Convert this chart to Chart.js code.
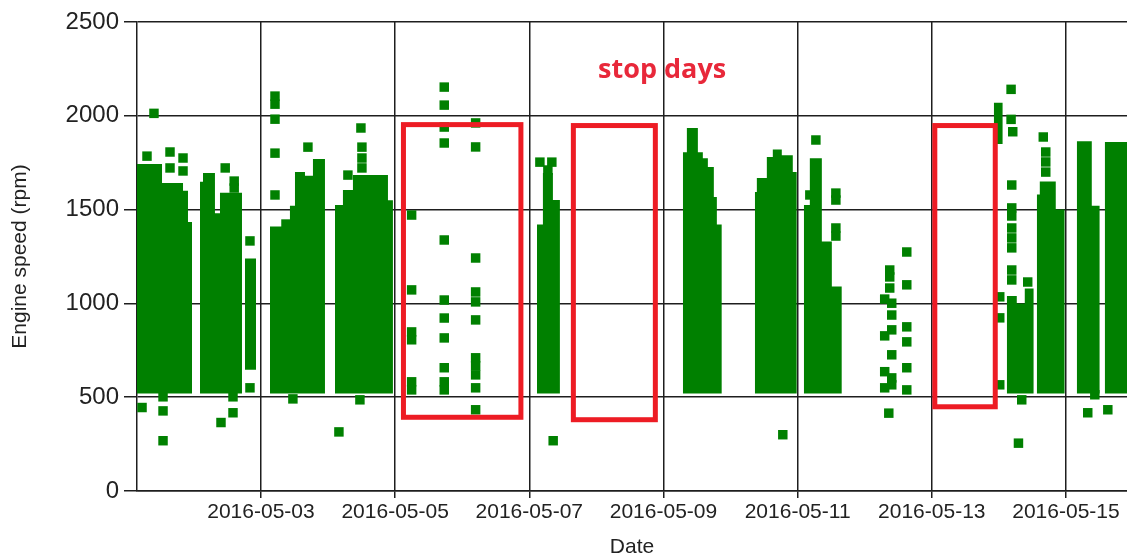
<!DOCTYPE html>
<html>
<head>
<meta charset="utf-8">
<script src="https://cdn.jsdelivr.net/npm/chart.js@4"></script>
<style>
    html, body { margin: 0; padding: 0; background: #fff; overflow: hidden; }
    #chart { display: block; }
</style>
</head>
<body>
<canvas id="chart" width="1127" height="558"></canvas>
<script>
// ============================================
// Engine speed per day - scatter with stop-day boxes
// ============================================

// x values are days of May 2016 (1.5 = 2016-05-01 12:00)
const tickDays = [3, 5, 7, 9, 11, 13, 15];
const tickLabels = ['2016-05-03', '2016-05-05', '2016-05-07', '2016-05-09', '2016-05-11', '2016-05-13', '2016-05-15'];
const yTicks = [0, 500, 1000, 1500, 2000, 2500];

// dense running periods: each row starts a step, null top = gap
const bandStart = [
    1.15, 1.525, 1.838, 1.912, 1.972, 1.972,
    2.091, 2.136, 2.314, 2.389, 2.717, 2.717,
    2.762, 2.926, 2.926,
    3.134, 3.432, 3.507, 3.656, 3.775, 3.954, 3.954,
    4.103, 4.222, 4.371, 4.893, 4.967, 4.967,
    7.113, 7.203, 7.352, 7.456, 7.456,
    9.289, 9.349, 9.513, 9.587, 9.662, 9.751, 9.796, 9.870, 9.870,
    10.362, 10.392, 10.541, 10.630, 10.764, 10.928, 10.988, 10.988,
    11.092, 11.182, 11.361, 11.510, 11.659, 11.659,
    13.924, 14.058, 14.058,
    14.118, 14.267, 14.386, 14.520, 14.520,
    14.565, 14.610, 14.848, 14.982, 14.982,
    15.161, 15.385, 15.504, 15.504,
    15.578, 15.91
];
const bandTop = [
    1743, 1642, 1600, 1434, 1434, null,
    1648, 1695, 1480, 1590, 1590, null,
    1240, 1240, null,
    1410, 1520, 1700, 1680, 1770, 1770, null,
    1525, 1604, 1684, 1550, 1550, null,
    1420, 1695, 1551, 1551, null,
    1806, 1935, 1806, 1774, 1727, 1567, 1420, 1420, null,
    1594, 1668, 1780, 1820, 1790, 1700, 1700, null,
    1525, 1774, 1330, 1090, 1090, null,
    2070, 2070, null,
    1040, 1000, 1080, 1080, null,
    1580, 1650, 1500, 1500, null,
    1865, 1520, 1520, null,
    1860, 1860
];
const bandBottom = [
    520, 520, 520, 520, 520, null,
    520, 520, 520, 520, 520, null,
    646, 646, null,
    520, 520, 520, 520, 520, 520, null,
    520, 520, 520, 520, 520, null,
    520, 520, 520, 520, null,
    520, 520, 520, 520, 520, 520, 520, 520, null,
    520, 520, 520, 520, 520, 520, 520, null,
    520, 520, 520, 520, 520, null,
    1850, 1850, null,
    520, 520, 520, 520, null,
    520, 520, 520, 520, null,
    520, 520, 520, null,
    520, 520
];

// single readings outside the dense areas
const pointDay = [
    1.405, 1.301, 1.644, 1.644, 1.838, 1.838, 1.227, 1.540, 1.540, 1.540,
    2.467, 2.601, 2.601, 2.404, 2.583, 2.583, 2.836, 2.836,
    3.209, 3.209, 3.209, 3.209, 3.209, 3.373, 3.700, 3.476,
    4.162, 4.296, 4.490, 4.505, 4.505, 4.505, 4.475,
    5.246, 5.246, 5.246, 5.246, 5.246, 5.246,
    5.732, 5.732, 5.732, 5.732, 5.732, 5.732, 5.732, 5.732, 5.732, 5.732, 5.732,
    6.200, 6.200, 6.200, 6.200, 6.200, 6.200, 6.200, 6.200, 6.200, 6.200, 6.200,
    7.158, 7.336, 7.277, 7.356,
    11.182, 11.272, 11.570, 11.570, 11.570, 11.570, 10.779,
    12.373, 12.373, 12.373, 12.298, 12.403, 12.403, 12.403, 12.298, 12.403, 12.298,
    12.403, 12.298, 12.403, 12.359,
    12.627, 12.627, 12.627, 12.627, 12.627, 12.627,
    14.182, 14.182, 14.207, 14.013, 14.013, 14.013,
    14.192, 14.192, 14.192, 14.192, 14.192, 14.192, 14.192, 14.192,
    14.430, 14.292, 14.341,
    14.662, 14.699, 14.699, 14.699,
    15.325, 15.430, 15.624
];
const pointRpm = [
    2013, 1785, 1807, 1722, 1775, 1706, 445, 502, 427, 268,
    1722, 1652, 1615, 365, 417, 502, 1333, 550,
    2105, 2062, 1982, 1801, 1578, 1423, 1833, 491,
    315, 1684, 1935, 1833, 1775, 1722, 486,
    1471, 1072, 848, 806, 582, 539,
    2153, 2057, 1940, 1855, 1338, 1018, 922, 816, 657, 582, 539,
    1962, 1834, 1242, 1061, 1008, 912, 710, 667, 619, 550, 433,
    1753, 1753, 1711, 268,
    1578, 1871, 1588, 1551, 1402, 1359, 300,
    1178, 1141, 1082, 1023, 1001, 938, 859, 827, 726, 636,
    603, 550, 566, 415,
    1274, 1099, 875, 795, 657, 539,
    2141, 1981, 1915, 1035, 923, 566,
    1631, 1509, 1466, 1402, 1349, 1296, 1178, 1125,
    1114, 255, 486,
    1887, 1807, 1754, 1700,
    417, 513, 433
];

// hand-drawn "stop days" boxes
const boxStart = [5.124, 7.657, 13.045];
const boxEnd = [6.875, 8.879, 13.946];
const boxLow = [393, 380, 449];
const boxHigh = [1953, 1948, 1948];
const noteText = 'stop days';
const noteDay = 8.98;
const noteRpm = 2245;

const GREEN = '#008000';
const RED = '#ed1c24';
const GRID = '#1e1e1e';

const stopBoxes = {
    id: 'stopBoxes',
    afterDatasetsDraw(chart) {
        const { ctx, scales: { x, y } } = chart;
        ctx.save();
        ctx.strokeStyle = RED;
        ctx.lineWidth = 5;
        boxStart.forEach((s, i) => {
            const x1 = x.getPixelForValue(s);
            const x2 = x.getPixelForValue(boxEnd[i]);
            const y1 = y.getPixelForValue(boxHigh[i]);
            const y2 = y.getPixelForValue(boxLow[i]);
            ctx.strokeRect(x1, y1, x2 - x1, y2 - y1);
        });
        ctx.fillStyle = '#e8283a';
        ctx.font = 'bold 27px "Open Sans"';
        ctx.textAlign = 'center';
        ctx.textBaseline = 'middle';
        ctx.fillText(noteText, x.getPixelForValue(noteDay), y.getPixelForValue(noteRpm));
        ctx.restore();
    }
};

const toXY = (xs, ys) => xs.map((v, i) => ({ x: v, y: ys[i] }));

new Chart(document.getElementById('chart'), {
    type: 'scatter',
    data: {
        datasets: [
            {
                type: 'line',
                label: 'band low',
                data: toXY(bandStart, bandBottom),
                showLine: true,
                stepped: true,
                borderWidth: 0,
                pointRadius: 0,
                fill: false
            },
            {
                type: 'line',
                label: 'band high',
                data: toXY(bandStart, bandTop),
                showLine: true,
                stepped: true,
                borderWidth: 0,
                borderColor: GREEN,
                pointRadius: 0,
                backgroundColor: GREEN,
                fill: '-1'
            },
            {
                label: 'Engine speed',
                data: toXY(pointDay, pointRpm),
                pointStyle: 'rect',
                pointRadius: 6.7,
                borderWidth: 0,
                backgroundColor: GREEN
            }
        ]
    },
    options: {
        responsive: false,
        animation: false,
        events: [],
        layout: { autoPadding: false, padding: { top: 22, left: 0, right: 0, bottom: 0 } },
        plugins: {
            legend: { display: false },
            tooltip: { enabled: false }
        },
        scales: {
            x: {
                type: 'linear',
                min: 1.152,
                max: 15.91,
                afterBuildTicks: s => { s.ticks = tickDays.map(v => ({ value: v })); },
                afterFit: s => { s.height = 67; s.paddingRight = 0; s.paddingLeft = 0; },
                ticks: {
                    autoSkip: false,
                    maxRotation: 0,
                    padding: 2,
                    color: '#222',
                    font: { family: 'Liberation Sans, Arial', size: 21 },
                    callback: v => tickLabels[tickDays.indexOf(v)]
                },
                grid: { color: GRID, lineWidth: 1.5, tickLength: 7 },
                border: { display: true, color: GRID, width: 1.5 },
                title: {
                    display: true,
                    text: 'Date',
                    color: '#222',
                    font: { family: 'Liberation Sans, Arial', size: 21, lineHeight: 1 },
                    padding: { top: 0, bottom: 0 }
                }
            },
            y: {
                min: 0,
                max: 2500,
                afterBuildTicks: s => { s.ticks = yTicks.map(v => ({ value: v })); },
                afterFit: s => { s.width = 137; s.paddingTop = 0; s.paddingBottom = 0; },
                ticks: {
                    padding: 5,
                    color: '#222',
                    font: { family: 'Liberation Sans, Arial', size: 24 },
                    callback: v => String(v)
                },
                grid: { color: GRID, lineWidth: 1.5, tickLength: 13 },
                border: { display: true, color: GRID, width: 1.5 },
                title: {
                    display: true,
                    text: 'Engine speed (rpm)',
                    color: '#222',
                    font: { family: 'Liberation Sans, Arial', size: 21, lineHeight: 1.2 },
                    padding: { top: 8, bottom: 0 }
                }
            }
        }
    },
    plugins: [stopBoxes]
});
</script>
</body>
</html>
